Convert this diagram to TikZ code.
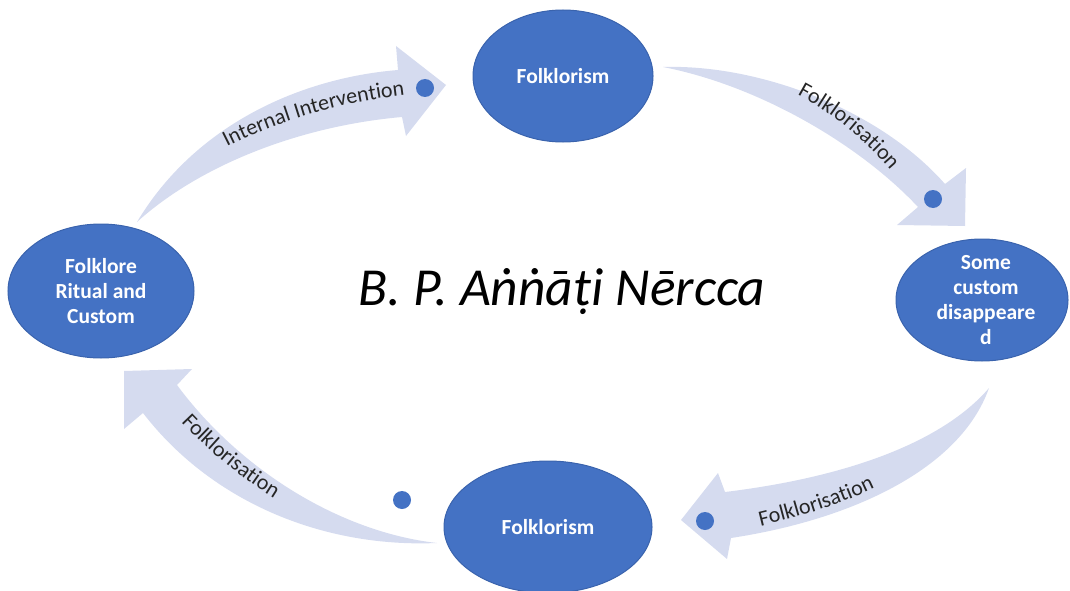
\documentclass[tikz,border=0pt]{standalone}
\usepackage{fontspec}
\setmainfont{Carlito}
\usetikzlibrary{shapes.geometric,decorations.text}

\definecolor{stageblue}{HTML}{4472C4}
\definecolor{stageedge}{HTML}{3A63AD}
\definecolor{flowfill}{HTML}{D5DBEF}
\definecolor{labelink}{HTML}{262626}

\tikzset{
  stage/.style={ellipse, fill=stageblue, draw=stageedge, line width=1pt,
    inner sep=0pt, minimum width=#1},
  stagetext/.style={text=white, align=center, inner sep=0pt,
    font=\bfseries\fontsize{21.5}{25}\selectfont},
  flow/.style={fill=flowfill},
  marker/.style={circle, fill=stageblue, inner sep=0pt, minimum size=18pt},
  flowlabel/.style={decorate, decoration={text along path, text align=center,
    text color=labelink, text={|\fontsize{22}{26}\selectfont|#1}}}
}

\begin{document}
\begin{tikzpicture}[x=1pt,y=-1pt]
\clip (0,0) rectangle (1070,591);

% the four stages of the cycle
\node[stage=180pt, minimum height=132pt] (top) at (563,76) {};
\node[stage=172pt, minimum height=122pt] (right) at (982,300) {};
\node[stage=208pt, minimum height=132pt] (bottom) at (548,527) {};
\node[stage=186pt, minimum height=134pt] (left) at (101,291) {};

\node[stagetext] (toptext) at (top) {Folklorism};
\node[stagetext] (righttext) at ([xshift=4pt]right.center) {Some\\custom\\disappeare\\d};
\node[stagetext] (bottomtext) at (bottom) {Folklorism};
\node[stagetext] (lefttext) at (left) {Folklore\\Ritual and\\Custom};

% curved block arrows between the stages
\coordinate (a1tail) at (137,222);
\coordinate (a1tip) at (446,85);
\fill[flow] (a1tail) .. controls (195,125) and (300,78) .. (398,70)
  -- (396,46) -- (a1tip) -- (406,136) -- (402,117)
  .. controls (300,126) and (200,165) .. (a1tail) -- cycle;

\coordinate (a2tail) at (663,67);
\coordinate (a2tip) at (965,226);
\fill[flow] (a2tail) .. controls (760,64) and (880,110) .. (945,184)
  -- (966,168) -- (a2tip) -- (897,225) -- (918,207)
  .. controls (860,145) and (760,86) .. (a2tail) -- cycle;

\coordinate (a3tail) at (989,388);
\coordinate (a3tip) at (681,520);
\fill[flow] (a3tail) .. controls (940,445) and (840,478) .. (725,492)
  -- (718,473) -- (a3tip) -- (727,559) -- (731,538)
  .. controls (850,520) and (960,470) .. (a3tail) -- cycle;

\coordinate (a4tail) at (437,543);
\coordinate (a4tip) at (124,371);
\fill[flow] (a4tail) .. controls (340,532) and (240,470) .. (177,385)
  -- (192,369) -- (a4tip) -- (124,429) -- (143,413)
  .. controls (210,500) and (320,548) .. (a4tail) -- cycle;

% labels following the arrows
\path[flowlabel={Internal Intervention}] (210,156) .. controls (262,126) and (340,100) .. (424,93);
\path[flowlabel={Folklorisation}] (784,88) .. controls (822,106) and (864,136) .. (900,182);
\path[flowlabel={Folklorisation}] (744,530) .. controls (788,520) and (842,506) .. (890,480);
\path[flowlabel={Folklorisation}] (171,411) .. controls (203,447) and (240,479) .. (287,506);

% small markers
\node[marker] (m1) at (425,88) {};
\node[marker] (m2) at (933,199) {};
\node[marker] (m3) at (705,521) {};
\node[marker] (m4) at (402,500) {};

% centre title
\node[anchor=base, inner sep=0pt, text=black,
  font=\itshape\fontsize{53.5}{62}\selectfont] (title) at (562,305)
  {B. P. Aṅṅāṭi Nērcca};
\end{tikzpicture}
\end{document}
